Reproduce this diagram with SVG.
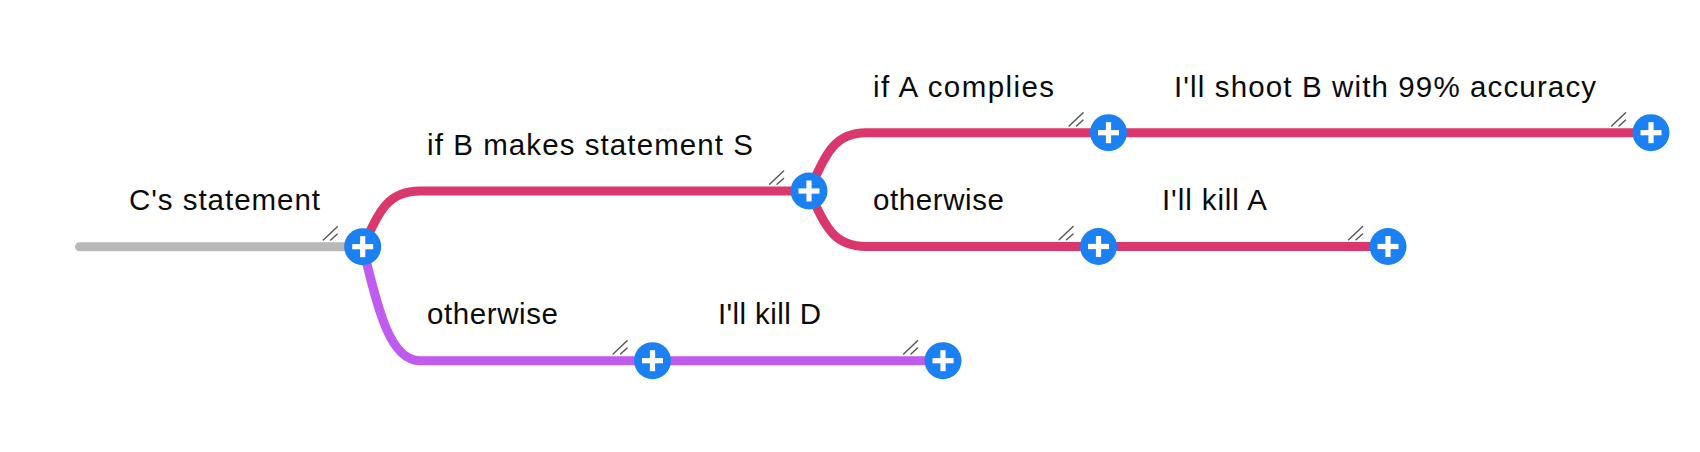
<svg xmlns="http://www.w3.org/2000/svg" width="1700" height="452" viewBox="0 0 1700 452">
<style>
.e{fill:none;stroke-width:9;stroke-linecap:round;stroke-linejoin:round}
.g{stroke:#b8b8b8}
.p{stroke:#da386c}
.v{stroke:#bf5bef}
.c{fill:#1b80f2}
.x{fill:#fff}
.h{stroke:#555;stroke-width:1.4;fill:none;stroke-linecap:round}
.t{font-family:"Liberation Sans",Arial,sans-serif;font-size:29.5px;fill:#0a0a0a}
</style>
<defs>
<g id="btn">
<path class="h" d="M-39.4,-6.7 L-25.4,-20 M-32,-6.7 L-25.4,-12.6"/>
<circle r="18.5" class="c"/>
<rect x="-10.5" y="-2.6" width="21" height="5.2" class="x"/>
<rect x="-2.6" y="-10.5" width="5.2" height="21" class="x"/>
</g>
</defs>
<g id="connectors">
<path class="e g" d="M79.5,246.7 L362.7,246.7"/>
<path class="e p" d="M362.7,246.7 C380,210 388,191 420,191 L809,191"/>
<path class="e v" d="M362.7,246.7 C378,310 390,360.7 420,360.7 L943,360.7"/>
<path class="e p" d="M809,191 C826,154 834,132.7 866,132.7 L1651,132.7"/>
<path class="e p" d="M809,191 C826,228 834,246.5 866,246.5 L1388,246.5"/>
</g>
<g id="node-root">
<text class="t" x="129" y="210" textLength="191">C's statement</text>
<use href="#btn" x="362.7" y="246.7"/>
</g>
<g id="node-ifB">
<text class="t" x="427" y="155" textLength="326">if B makes statement S</text>
<use href="#btn" x="809" y="191"/>
</g>
<g id="node-otherwise-low">
<text class="t" x="427" y="324" textLength="131">otherwise</text>
<use href="#btn" x="652.5" y="360.7"/>
</g>
<g id="node-killD">
<text class="t" x="718" y="324" textLength="103">I'll kill D</text>
<use href="#btn" x="943" y="360.7"/>
</g>
<g id="node-ifA">
<text class="t" x="873" y="96.5" textLength="181">if A complies</text>
<use href="#btn" x="1108.5" y="132.7"/>
</g>
<g id="node-shoot">
<text class="t" x="1174" y="96.5" textLength="422">I'll shoot B with 99% accuracy</text>
<use href="#btn" x="1651" y="132.7"/>
</g>
<g id="node-otherwise-up">
<text class="t" x="873" y="210" textLength="131">otherwise</text>
<use href="#btn" x="1098.5" y="246.5"/>
</g>
<g id="node-killA">
<text class="t" x="1162" y="210" textLength="105">I'll kill A</text>
<use href="#btn" x="1388" y="246.5"/>
</g>
</svg>
